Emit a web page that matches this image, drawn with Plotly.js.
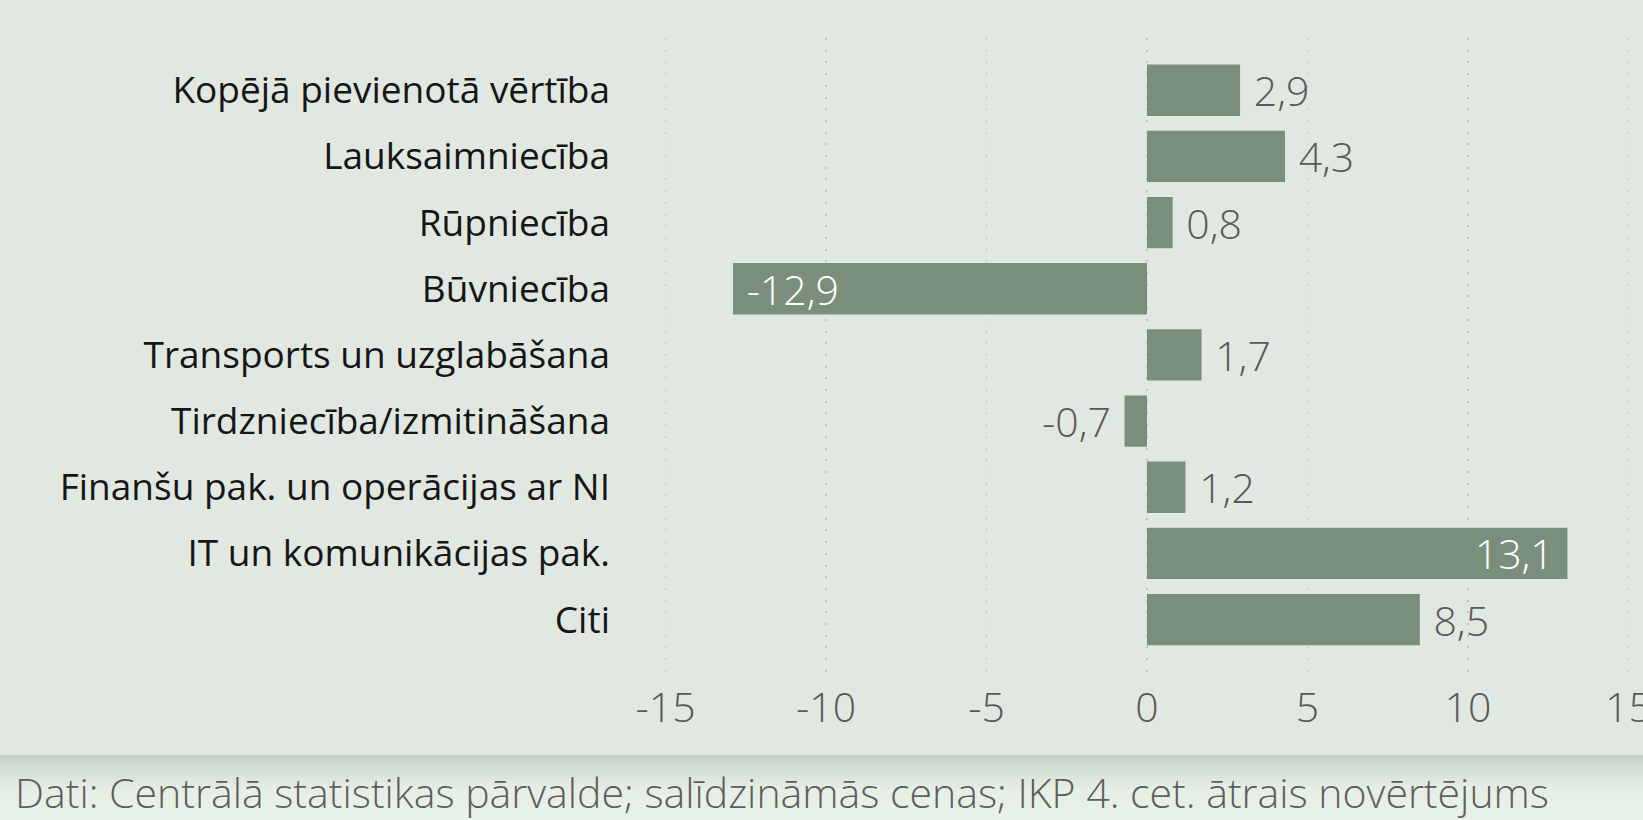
<!DOCTYPE html>
<html>
<head>
<meta charset="utf-8">
<script src="https://cdn.plot.ly/plotly-3.0.1.min.js"></script>
<style>
  html, body { margin: 0; padding: 0; width: 1643px; height: 820px; overflow: hidden; }
  body {
    background: linear-gradient(to bottom,
      #e1e8e1 0px, #e1e8e1 755px,
      #c4cfc4 755px, #d6e0d6 770px, #e6efe6 790px, #e9f2e9 820px);
  }
  #chart { width: 1643px; height: 820px; }
</style>
</head>
<body>
<div id="chart"></div>
<script>
// Data
const categories = [
  "Kopējā pievienotā vērtība",
  "Lauksaimniecība",
  "Rūpniecība",
  "Būvniecība",
  "Transports un uzglabāšana",
  "Tirdzniecība/izmitināšana",
  "Finanšu pak. un operācijas ar NI",
  "IT un komunikācijas pak.",
  "Citi"
];
const values = [2.9, 4.3, 0.8, -12.9, 1.7, -0.7, 1.2, 13.1, 8.5];
const xTickValues = [-15, -10, -5, 0, 5, 10, 15];
const sourceText = "Dati: Centrālā statistikas pārvalde; salīdzināmās cenas; IKP 4. cet. ātrais novērtējums";

const NB = "\u00a0";
const fmt = v => v.toFixed(1).replace(".", ",");
const isInside = v => Math.abs(v) > 10;
const labels = values.map(v => {
  const s = fmt(v);
  if (isInside(v)) return v < 0 ? NB + s : s + NB;
  return v < 0 ? s + NB : NB + s;
});
const positions = values.map(v => isInside(v) ? "inside" : "outside");

const trace = {
  type: "bar",
  orientation: "h",
  y: categories,
  x: values,
  text: labels,
  textposition: positions,
  insidetextanchor: "end",
  textangle: 0,
  constraintext: "none",
  cliponaxis: false,
  marker: { color: "#7a8f7b", line: { width: 0 } },
  textfont: { family: "Open Sans, sans-serif", size: 41, weight: 300 },
  insidetextfont: { family: "Open Sans, sans-serif", size: 41, color: "#ffffff", weight: 300 },
  outsidetextfont: { family: "Open Sans, sans-serif", size: 41, color: "#5a5858", weight: 300 },
  hoverinfo: "skip"
};

const layout = {
  width: 1643,
  height: 820,
  margin: { l: 663.9, r: 12.7, t: 38, b: 148, pad: 0 },
  paper_bgcolor: "rgba(0,0,0,0)",
  plot_bgcolor: "rgba(0,0,0,0)",
  bargap: 0.224,
  showlegend: false,
  xaxis: {
    range: [-15.05, 15.05],
    tickvals: xTickValues,
    ticktext: xTickValues.map(String),
    showgrid: true,
    gridcolor: "#bfc5bf",
    gridwidth: 1.3,
    griddash: "2px,9.7px",
    zeroline: false,
    showline: false,
    ticks: "",
    ticklabelstandoff: 8,
    ticklabeloverflow: "allow",
    tickfont: { family: "Open Sans, sans-serif", size: 41, color: "#5a5858", weight: 300 },
    automargin: false,
    fixedrange: true
  },
  yaxis: {
    type: "category",
    range: [8.792, -0.789],
    showgrid: false,
    zeroline: false,
    showline: false,
    ticks: "",
    ticklabelstandoff: 53,
    tickfont: { family: "Open Sans, sans-serif", size: 37, color: "#161616" },
    automargin: false,
    fixedrange: true
  },
  annotations: [{
    text: sourceText,
    xref: "paper", yref: "paper",
    x: (12.6 - 663.9) / 966.4, y: -0.19,
    xanchor: "left", yanchor: "middle",
    showarrow: false,
    font: { family: "Open Sans, sans-serif", size: 41, color: "#5e5e5e", weight: 300 }
  }]
};

Plotly.newPlot("chart", [trace], layout, { staticPlot: true, displayModeBar: false });
</script>
</body>
</html>
